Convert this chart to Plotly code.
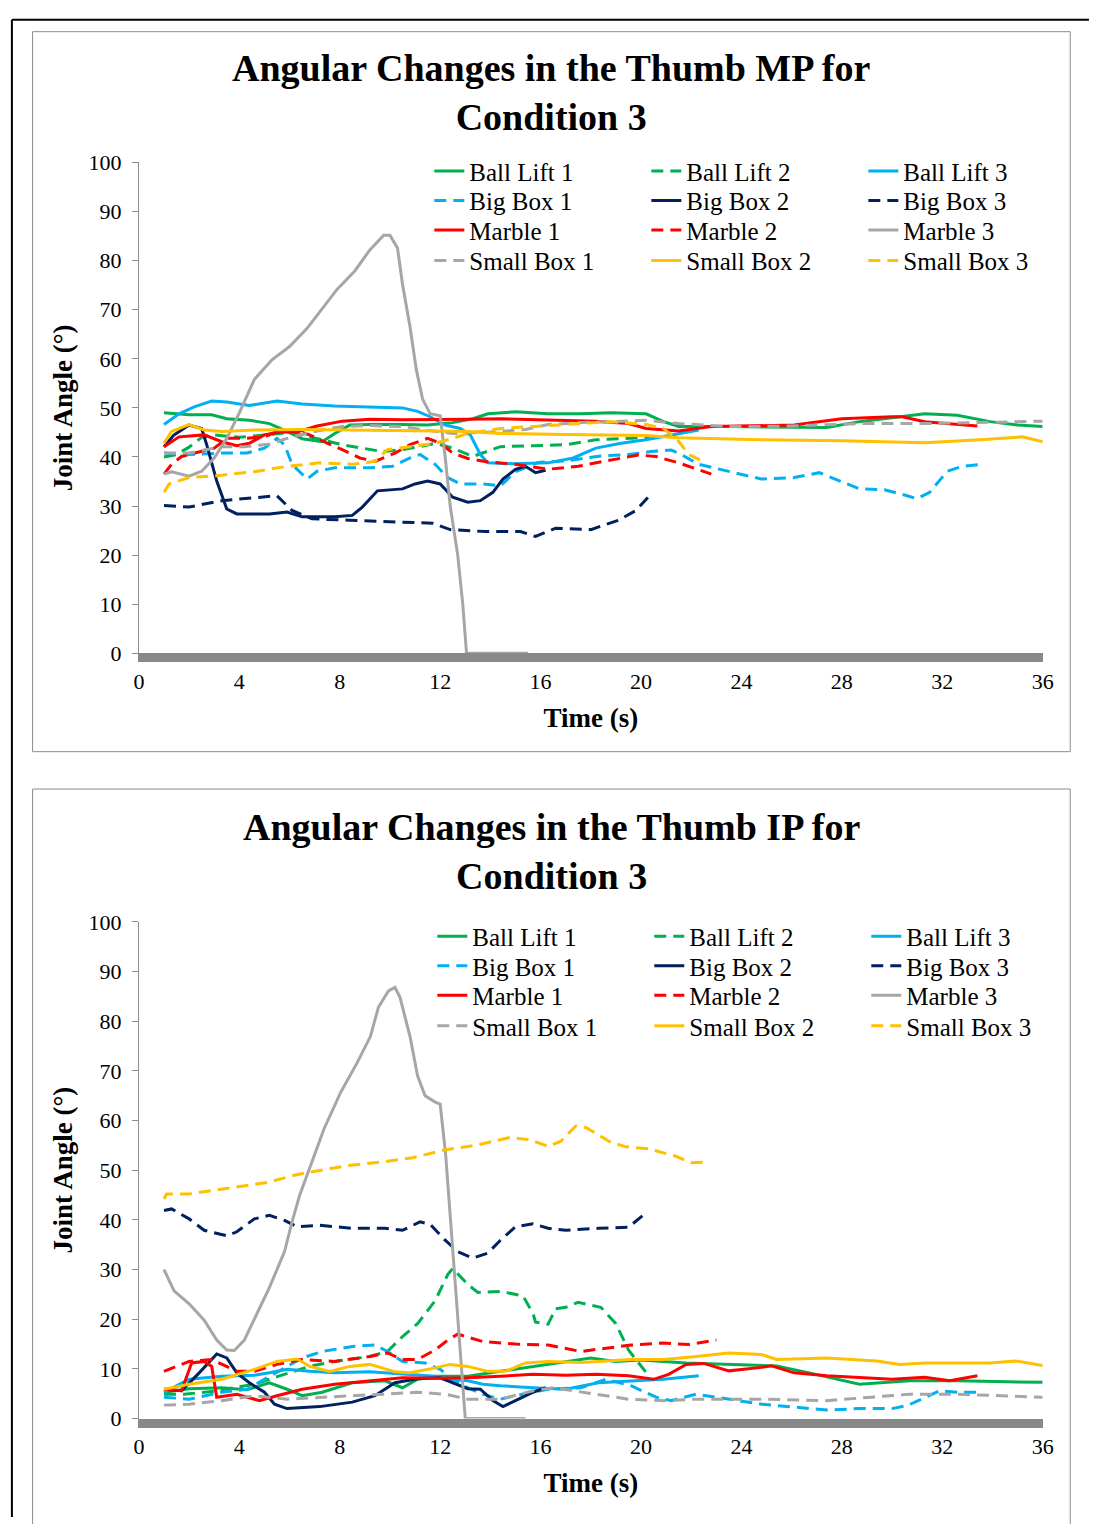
import plotly.graph_objects as go

W, H = 1097, 1524
SERIF = "Liberation Serif"

# ---------------- Data: Thumb MP, Condition 3 (time s, angle deg) ----------------
MP_BALL_LIFT_1 = [(1.0,49.0),(2.0,48.6),(2.9,48.6),(3.5,47.8),(4.4,47.5),(5.2,46.8),(5.9,45.2),(6.5,43.7),(7.3,43.1),(7.8,44.8),(8.4,46.5),(9.2,46.6),(10.5,46.6),(11.5,46.5),(12.5,47.0),(13.3,47.8),(13.9,48.8),(15.0,49.2),(16.3,48.8),(17.6,48.8),(18.8,49.0),(20.2,48.8),(20.9,47.2),(21.5,46.2),(23.5,46.2),(25.5,46.1),(27.4,46.0),(28.7,47.2),(30.7,48.5),(31.3,48.8),(32.6,48.5),(33.9,47.2),(35.0,46.5),(36.0,46.2)]
MP_BALL_LIFT_2 = [(1.0,40.0),(1.5,40.5),(2.0,42.0),(2.5,44.0),(3.0,44.5),(4.0,44.0),(5.0,44.5),(6.0,45.0),(7.3,43.5),(8.1,42.5),(8.9,41.8),(9.7,41.1),(10.5,41.5),(11.2,42.1),(11.8,42.8),(12.5,41.8),(13.3,40.1),(14.1,41.5),(14.4,42.1),(15.7,42.3),(17.0,42.5),(18.2,43.5),(19.5,43.8),(20.5,44.0)]
MP_BALL_LIFT_3 = [(1.0,46.6),(1.6,48.8),(2.2,50.2),(2.9,51.4),(3.5,51.2),(4.4,50.5),(5.5,51.4),(6.5,50.8),(7.8,50.4),(9.2,50.2),(10.5,50.0),(11.1,49.3),(11.6,48.2),(12.2,46.5),(12.8,45.8),(13.2,44.5),(13.6,40.5),(13.9,38.8),(15.0,38.6),(16.3,38.8),(17.3,39.8),(18.2,41.8),(19.2,42.8),(20.2,43.5),(21.3,44.5),(22.3,45.5)]
MP_BIG_BOX_1 = [(1.0,40.8),(2.0,40.5),(3.3,40.8),(4.3,40.8),(5.0,41.8),(5.5,43.8),(5.8,42.5),(6.1,38.5),(6.7,35.5),(7.1,37.1),(7.8,37.8),(9.2,37.8),(10.1,38.1),(10.8,39.8),(11.2,40.5),(11.8,38.5),(12.3,35.8),(12.8,34.5),(13.7,34.5),(14.4,34.1),(15.0,37.0),(15.9,38.9),(17.0,39.2),(18.4,40.2),(19.5,40.5),(20.4,41.1),(21.2,41.4),(21.6,40.5),(22.3,38.5),(23.5,37.0),(24.8,35.5),(26.1,35.8),(27.1,36.8),(28.7,33.5),(29.7,33.3),(30.6,32.1),(31.0,31.5),(31.5,32.8),(32.2,37.1),(32.8,38.1),(33.6,38.5)]
MP_BIG_BOX_2 = [(1.0,42.1),(1.4,44.5),(2.0,46.5),(2.5,45.8),(2.7,42.5),(3.1,35.1),(3.5,29.4),(3.9,28.4),(5.2,28.4),(5.9,28.8),(6.5,27.8),(7.8,27.8),(8.5,28.1),(8.9,29.8),(9.5,33.1),(10.5,33.5),(11.0,34.5),(11.5,35.1),(12.0,34.5),(12.5,31.8),(13.1,30.8),(13.6,31.1),(14.1,32.8),(14.5,35.5),(15.0,37.5),(15.4,38.1),(15.8,36.8),(16.2,37.3)]
MP_BIG_BOX_3 = [(1.0,30.1),(2.0,29.8),(3.3,31.1),(4.3,31.5),(5.5,32.1),(6.1,29.1),(6.9,27.4),(8.4,27.1),(10.5,26.8),(11.7,26.5),(12.4,25.2),(13.8,24.8),(15.2,24.8),(15.8,23.8),(16.6,25.5),(18.0,25.2),(19.1,27.1),(19.8,29.1),(20.3,31.9)]
MP_MARBLE_1 = [(1.0,42.1),(1.6,44.1),(2.6,44.5),(3.3,43.1),(3.9,42.3),(4.4,42.8),(5.0,44.5),(5.6,45.1),(6.3,45.1),(7.1,46.3),(8.1,47.3),(9.2,47.7),(10.5,47.6),(11.8,47.6),(13.1,47.7),(14.4,47.8),(15.7,47.6),(17.0,47.4),(18.2,47.3),(19.5,46.8),(20.2,45.8),(21.5,45.3),(22.8,46.2),(26.1,46.5),(28.0,47.8),(30.0,48.2),(30.4,48.2),(31.3,47.2),(33.4,46.3)]
MP_MARBLE_2 = [(1.0,36.5),(1.3,38.5),(1.7,40.1),(2.4,41.1),(3.0,41.8),(3.5,43.8),(4.3,43.8),(5.0,44.1),(5.5,45.2),(6.3,45.2),(6.8,44.5),(7.5,42.8),(8.1,41.5),(8.8,39.8),(9.4,39.1),(10.2,40.8),(10.8,42.5),(11.5,43.8),(12.0,42.8),(12.5,40.8),(13.1,39.7),(13.9,39.0),(15.0,38.5),(16.3,37.5),(17.5,38.1),(18.5,39.1),(19.9,40.4),(20.6,40.1),(21.5,38.8),(22.8,36.5)]
MP_MARBLE_3 = [(1.0,36.5),(1.3,37.0),(2.0,36.1),(2.5,37.1),(3.0,39.8),(3.5,43.8),(4.0,49.0),(4.6,55.8),(5.3,59.8),(6.0,62.5),(6.7,66.2),(7.25,69.9),(7.9,74.2),(8.6,77.9),(9.2,82.2),(9.75,85.2),(10.0,85.2),(10.3,82.6),(10.5,75.2),(10.8,66.5),(11.05,57.8),(11.3,51.8),(11.6,48.8),(12.0,48.4),(12.2,40.0),(12.4,30.0),(12.7,20.0),(12.9,10.0),(13.05,0.0),(15.5,0.0)]
MP_SMALL_BOX_1 = [(1.0,40.8),(2.0,40.8),(3.3,42.1),(4.2,42.1),(5.2,42.6),(5.9,43.8),(7.0,45.2),(8.1,46.2),(9.2,46.4),(10.5,46.2),(11.4,45.5),(12.5,44.8),(14.4,45.2),(15.4,45.6),(16.3,46.6),(17.6,47.0),(18.8,47.2),(20.2,47.5),(21.5,46.8),(23.5,46.2),(26.0,46.3),(28.7,46.8),(31.3,46.8),(34.0,47.0),(36.0,47.3)]
MP_SMALL_BOX_2 = [(1.0,42.8),(1.3,45.2),(2.0,46.6),(2.6,45.5),(3.3,45.2),(4.6,45.5),(6.5,45.6),(9.2,45.5),(11.8,45.3),(13.1,45.2),(14.4,44.8),(17.0,44.6),(18.8,44.5),(20.2,44.4),(21.5,43.9),(24.8,43.5),(28.0,43.3),(31.3,42.9),(33.5,43.5),(35.2,44.1),(36.0,43.1)]
MP_SMALL_BOX_3 = [(1.0,32.8),(1.2,34.5),(2.0,35.8),(3.3,36.3),(4.6,37.0),(5.9,38.1),(7.2,38.8),(8.5,38.5),(9.4,39.1),(9.9,41.5),(10.8,42.1),(11.8,42.8),(12.5,43.8),(13.1,44.8),(14.4,45.8),(15.7,46.2),(17.0,46.6),(18.8,47.2),(20.2,46.6),(20.9,45.8),(21.5,43.2),(21.9,40.5),(22.3,39.5),(22.5,39.8)]

# ---------------- Data: Thumb IP, Condition 3 ----------------
IP_BALL_LIFT_1 = [(1.0,5.3),(2.0,6.0),(3.3,6.2),(4.3,5.8),(5.2,7.2),(5.9,5.9),(6.5,4.6),(7.3,5.3),(8.5,7.2),(9.8,7.6),(10.5,6.2),(11.1,7.9),(11.8,8.5),(13.1,8.5),(14.4,9.5),(15.7,10.5),(17.0,11.5),(18.0,12.2),(19.0,11.5),(20.0,11.8),(21.8,11.2),(23.5,10.9),(25.4,10.6),(26.7,9.2),(28.7,6.9),(30.7,7.6),(32.6,7.6),(34.6,7.4),(36.0,7.3)]
IP_BALL_LIFT_2 = [(1.0,4.9),(1.8,4.9),(3.0,5.5),(4.6,6.9),(5.6,8.6),(6.8,10.5),(7.8,11.5),(9.2,12.5),(9.9,13.5),(10.5,16.5),(11.1,19.1),(11.8,23.7),(12.3,29.0),(12.5,30.2),(13.1,27.0),(13.5,25.4),(14.4,25.6),(15.3,24.7),(15.7,21.1),(15.8,19.4),(16.3,19.0),(16.6,22.1),(17.0,22.4),(17.5,23.4),(18.0,22.8),(18.4,22.4),(19.0,19.1),(19.5,13.8),(20.2,9.3),(20.4,8.5)]
IP_BALL_LIFT_3 = [(1.0,5.3),(2.0,7.9),(3.3,8.5),(4.6,8.7),(5.2,9.2),(5.9,9.9),(6.8,9.5),(7.8,9.2),(9.2,9.4),(10.5,8.9),(11.8,8.5),(12.4,7.9),(13.1,7.6),(13.7,6.9),(14.4,6.6),(15.7,6.2),(17.0,5.9),(18.3,7.2),(19.6,7.6),(20.9,7.9),(22.3,8.6)]
IP_BIG_BOX_1 = [(1.0,4.3),(2.0,3.9),(3.3,5.3),(4.3,5.9),(5.0,7.9),(5.9,10.5),(6.5,12.2),(7.3,13.5),(8.5,14.5),(9.4,14.8),(9.9,13.5),(10.5,11.5),(11.4,11.2),(12.0,9.9),(12.5,7.9),(13.1,6.2),(13.7,4.9),(14.4,3.9),(15.0,4.6),(16.3,5.9),(17.6,6.2),(18.6,7.9),(19.6,6.6),(20.6,4.3),(21.2,3.6),(22.2,4.9),(23.5,3.9),(24.8,2.9),(26.1,2.3),(27.4,1.7),(28.7,2.0),(30.0,2.0),(30.6,2.6),(31.3,4.3),(31.9,5.6),(32.6,5.3),(33.6,5.3)]
IP_BIG_BOX_2 = [(1.0,5.9),(1.7,5.6),(2.4,9.2),(3.1,13.0),(3.5,12.2),(3.9,9.2),(4.4,7.2),(5.0,5.3),(5.4,2.9),(5.9,2.0),(7.2,2.4),(8.5,3.3),(9.4,4.6),(10.2,7.2),(11.1,8.0),(12.0,8.2),(13.1,6.0),(13.6,5.9),(14.1,3.6),(14.5,2.4),(15.0,3.6),(15.7,5.3),(16.2,6.2)]
IP_BIG_BOX_3 = [(1.0,41.9),(1.3,42.2),(2.0,40.2),(2.6,37.9),(3.5,36.8),(3.9,37.6),(4.6,40.2),(5.2,40.9),(5.8,39.9),(6.3,38.6),(7.2,38.9),(8.5,38.3),(9.8,38.3),(10.5,37.9),(11.2,39.6),(11.6,39.1),(12.2,35.9),(12.7,33.6),(13.3,32.3),(13.9,33.3),(14.4,35.9),(15.0,38.6),(15.7,39.2),(16.3,38.3),(17.0,37.9),(18.3,38.3),(19.5,38.5),(20.1,41.0)]
IP_MARBLE_1 = [(1.0,5.9),(1.7,5.6),(2.1,11.2),(2.6,11.5),(2.9,10.5),(3.1,4.3),(3.9,4.9),(4.8,3.6),(5.5,4.6),(6.5,5.9),(7.8,6.9),(9.2,7.6),(10.5,8.2),(11.8,8.1),(13.1,8.2),(14.4,8.5),(15.7,8.9),(17.0,8.7),(18.2,8.9),(19.5,8.6),(20.5,7.9),(21.1,8.9),(21.8,10.9),(22.5,11.1),(23.5,9.6),(24.8,10.3),(25.2,10.6),(26.1,9.2),(27.4,8.6),(30.0,7.9),(31.3,8.3),(32.3,7.6),(33.4,8.6)]
IP_MARBLE_2 = [(1.0,9.5),(2.0,11.5),(2.9,11.9),(3.9,9.5),(4.6,9.5),(5.5,10.9),(6.5,11.9),(7.8,11.5),(9.2,12.5),(9.9,13.2),(10.5,11.9),(11.1,11.9),(11.8,13.8),(12.3,15.8),(12.7,17.0),(13.7,15.5),(15.0,15.0),(16.3,14.8),(17.6,13.5),(18.6,14.2),(19.6,14.8),(20.9,15.2),(21.9,14.9),(23.0,15.8)]
IP_MARBLE_3 = [(1.0,30.0),(1.2,27.7),(1.4,25.7),(2.0,23.1),(2.6,19.8),(3.1,15.8),(3.5,13.8),(3.8,13.7),(4.2,15.8),(4.7,21.1),(5.2,26.4),(5.8,33.6),(6.1,39.6),(6.4,44.9),(6.86,51.2),(7.38,58.4),(8.04,65.7),(8.69,71.6),(9.22,76.9),(9.54,82.8),(9.94,86.1),(10.2,86.8),(10.4,84.8),(10.8,76.9),(11.1,69.0),(11.4,65.0),(11.8,63.7),(12.0,63.3),(12.22,53.1),(12.35,44.5),(13.0,0.0),(15.4,0.0)]
IP_SMALL_BOX_1 = [(1.0,2.7),(2.0,2.9),(3.3,3.6),(4.6,4.6),(5.9,3.9),(7.2,4.3),(8.5,4.6),(9.8,4.9),(11.1,5.3),(12.2,4.9),(13.1,3.9),(14.4,3.9),(15.7,5.6),(16.5,6.2),(17.6,5.3),(18.2,4.9),(19.5,3.9),(20.9,3.6),(22.2,3.9),(24.8,3.9),(27.4,3.6),(29.4,4.3),(30.7,4.9),(32.6,4.9),(34.6,4.6),(36.0,4.3)]
IP_SMALL_BOX_2 = [(1.0,5.9),(2.0,6.9),(3.3,7.9),(4.6,9.9),(5.5,11.5),(6.3,12.0),(6.8,10.5),(7.6,9.5),(8.4,10.5),(9.2,10.9),(10.2,9.4),(10.8,9.2),(11.8,10.2),(12.4,10.9),(13.1,10.5),(13.9,9.5),(14.6,9.5),(15.4,11.2),(16.3,11.5),(17.6,11.3),(19.6,11.9),(20.9,11.9),(22.2,12.5),(23.5,13.2),(24.8,12.9),(25.4,11.9),(27.4,12.2),(29.4,11.6),(30.3,10.9),(31.3,11.2),(33.9,11.2),(34.9,11.6),(36.0,10.7)]
IP_SMALL_BOX_3 = [(1.0,44.2),(1.1,45.2),(2.0,45.2),(3.3,46.2),(5.1,47.5),(6.2,49.0),(6.7,49.5),(8.3,50.9),(9.6,51.6),(10.9,52.5),(12.2,54.1),(13.5,55.1),(14.8,56.6),(15.6,56.1),(16.3,54.8),(16.8,55.8),(17.4,58.9),(17.8,58.6),(18.8,55.6),(19.4,54.7),(20.3,54.3),(21.4,52.8),(22.0,51.5),(22.5,51.6)]

SERIES_NAMES = ["Ball Lift 1", "Ball Lift 2", "Ball Lift 3",
                "Big Box 1", "Big Box 2", "Big Box 3",
                "Marble 1", "Marble 2", "Marble 3",
                "Small Box 1", "Small Box 2", "Small Box 3"]
MP_SERIES = [MP_BALL_LIFT_1, MP_BALL_LIFT_2, MP_BALL_LIFT_3, MP_BIG_BOX_1, MP_BIG_BOX_2, MP_BIG_BOX_3,
             MP_MARBLE_1, MP_MARBLE_2, MP_MARBLE_3, MP_SMALL_BOX_1, MP_SMALL_BOX_2, MP_SMALL_BOX_3]
IP_SERIES = [IP_BALL_LIFT_1, IP_BALL_LIFT_2, IP_BALL_LIFT_3, IP_BIG_BOX_1, IP_BIG_BOX_2, IP_BIG_BOX_3,
             IP_MARBLE_1, IP_MARBLE_2, IP_MARBLE_3, IP_SMALL_BOX_1, IP_SMALL_BOX_2, IP_SMALL_BOX_3]

COLORS = ["#00B050", "#00B050", "#00B0F0", "#00B0F0", "#002060", "#002060",
          "#FF0000", "#FF0000", "#A6A6A6", "#A6A6A6", "#FFC000", "#FFC000"]
DASHES = ["solid", "12px,7px"] * 6

X_TICKS = [0, 4, 8, 12, 16, 20, 24, 28, 32, 36]
Y_TICKS = [0, 10, 20, 30, 40, 50, 60, 70, 80, 90, 100]

TITLE_MP = "Angular Changes in the Thumb MP for<br>Condition 3"
TITLE_IP = "Angular Changes in the Thumb IP for<br>Condition 3"


def px(x):
    return x / W


def py(y):
    return 1 - y / H


fig = go.Figure()

panels = [
    dict(series=MP_SERIES, xa="x", ya="y", legend_base=0),
    dict(series=IP_SERIES, xa="x2", ya="y2", legend_base=4),
]
for p in panels:
    for i, (name, data) in enumerate(zip(SERIES_NAMES, p["series"])):
        row = i // 3
        lid = p["legend_base"] + row + 1
        legend_name = "legend" if lid == 1 else f"legend{lid}"
        fig.add_trace(go.Scatter(
            x=[d[0] for d in data], y=[d[1] for d in data],
            mode="lines", name=name,
            line=dict(color=COLORS[i], width=3, dash=DASHES[i]),
            xaxis=p["xa"], yaxis=p["ya"],
            legend=legend_name,
        ))

axis_font = dict(family=SERIF, size=22, color="black")
title_font = dict(family=SERIF, size=27, color="black", weight="bold")

xaxis_common = dict(range=[0, 36], tickvals=X_TICKS, showgrid=False, zeroline=False,
                    showline=True, linecolor="#898989", linewidth=9, ticks="",
                    tickfont=axis_font, domain=[px(135), px(1053)], fixedrange=True)
yaxis_common = dict(range=[0, 100], tickvals=Y_TICKS, showgrid=False, zeroline=False,
                    showline=True, linecolor="#8c8c8c", linewidth=1, ticks="outside",
                    ticklen=6, tickcolor="#8c8c8c", tickfont=axis_font, fixedrange=True,
                    ticklabelstandoff=6)

fig.update_layout(
    width=W, height=H, margin=dict(l=0, r=0, t=0, b=0),
    paper_bgcolor="white", plot_bgcolor="white",
    font=dict(family=SERIF, color="black"),
    xaxis=dict(xaxis_common, anchor="y",
               title=dict(text="Time (s)", font=title_font, standoff=19)),
    yaxis=dict(yaxis_common, anchor="x", domain=[py(652), py(153)],
               title=dict(text="Joint Angle (°)", font=title_font, standoff=8)),
    xaxis2=dict(xaxis_common, anchor="y2",
                title=dict(text="Time (s)", font=title_font, standoff=19)),
    yaxis2=dict(yaxis_common, anchor="x2", domain=[py(1430), py(925)],
                title=dict(text="Joint Angle (°)", font=title_font, standoff=8)),
    showlegend=True,
)

# legends: one horizontal legend per row (3 entries each)
legend_rows = [
    (432, [162, 192, 222, 253]),
    (435, [940, 970, 1000, 1031]),
]
lid = 0
for x0, rows in legend_rows:
    for yrow in rows:
        lid += 1
        key = "legend" if lid == 1 else f"legend{lid}"
        fig.update_layout({key: dict(
            orientation="h", x=px(x0 - 2), xanchor="left", y=py(yrow), yanchor="middle",
            bgcolor="rgba(0,0,0,0)", borderwidth=0,
            font=dict(family=SERIF, size=25, color="black"),
            entrywidth=172, entrywidthmode="pixels", itemclick=False, itemdoubleclick=False,
        )})

# chart titles
fig.add_annotation(text=TITLE_MP, x=px(554), y=py(82), xref="paper", yref="paper",
                   showarrow=False, xanchor="center", yanchor="middle",
                   font=dict(family=SERIF, size=38, color="black", weight="bold"))
fig.add_annotation(text=TITLE_IP, x=px(554), y=py(853), xref="paper", yref="paper",
                   showarrow=False, xanchor="center", yanchor="middle",
                   font=dict(family=SERIF, size=38, color="black", weight="bold"))

# panel borders and outer frame
fig.add_shape(type="rect", xref="paper", yref="paper", x0=px(27), x1=px(1081), y0=py(1540), y1=py(790),
              line=dict(color="#8c8c8c", width=1), layer="below")
fig.add_shape(type="rect", xref="paper", yref="paper", x0=px(27), x1=px(1081), y0=py(752), y1=py(20),
              line=dict(color="#8c8c8c", width=1), layer="below")
fig.add_shape(type="line", xref="paper", yref="paper", x0=px(6), x1=px(1100), y0=py(8), y1=py(8),
              line=dict(color="black", width=2))
fig.add_shape(type="line", xref="paper", yref="paper", x0=px(6), x1=px(6), y0=py(8), y1=py(1530),
              line=dict(color="black", width=2))

fig.write_html(
    "out.html",
    config={"displayModeBar": False},
    post_script="document.body.style.margin='0';document.body.style.overflow='hidden';",
)
